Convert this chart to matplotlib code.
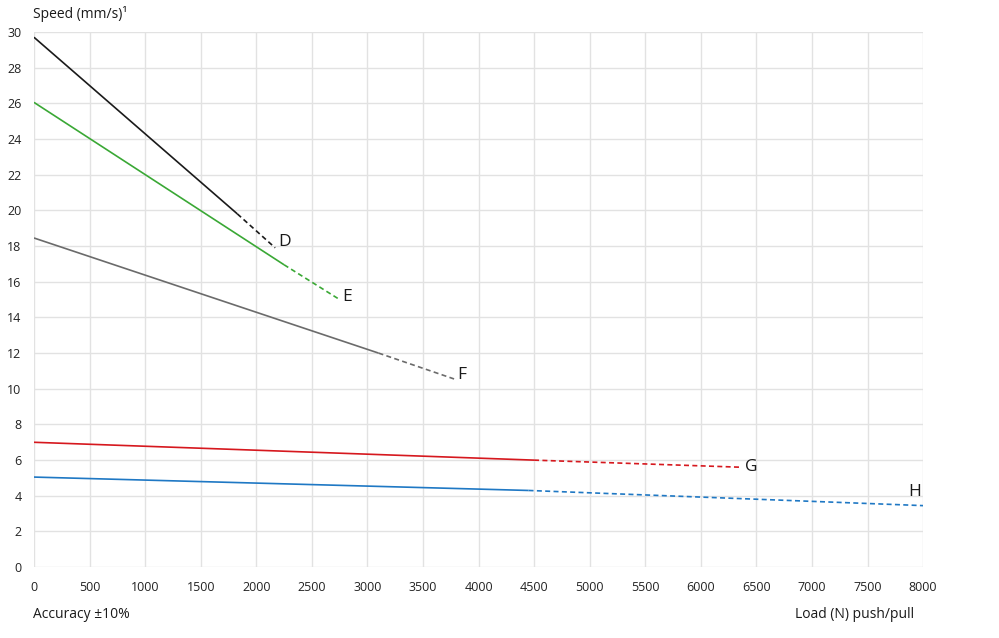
import matplotlib
matplotlib.use("Agg")
import matplotlib.pyplot as plt

plt.rcParams['font.family'] = ['Open Sans', 'DejaVu Sans']

# Data: each series = [start, end of solid part, end of dashed part]
names = ["D", "E", "F", "G", "H"]
load = {
    "D": [0, 1830, 2170],
    "E": [0, 2250, 2750],
    "F": [0, 3100, 3780],
    "G": [0, 4500, 6370],
    "H": [0, 4450, 8000],
}
speed = {
    "D": [29.7, 19.8, 17.9],
    "E": [26.05, 16.95, 15.0],
    "F": [18.45, 12.0, 10.55],
    "G": [7.0, 6.0, 5.6],
    "H": [5.05, 4.3, 3.45],
}
colors = {"D": "#1a1a1a", "E": "#3aa835", "F": "#6b6b6b", "G": "#d6181e", "H": "#1f78c4"}
label_offsets = {"D": (2, 4), "E": (2, 2), "F": (2, 3), "G": (2, 0), "H": (-6, 4)}
label_ha = {"D": "left", "E": "left", "F": "left", "G": "left", "H": "center"}

x_ticks = list(range(0, 8001, 500))
y_ticks = list(range(0, 31, 2))

fig = plt.figure(figsize=(9.99, 6.38), dpi=100)
ax = fig.add_axes([0.034, 0.111, 0.890, 0.839])

for n in names:
    xs, ys = load[n], speed[n]
    c = colors[n]
    ax.plot(xs[:2], ys[:2], color=c, lw=1.2, solid_capstyle='butt', zorder=3)
    ax.plot(xs[1:], ys[1:], color=c, lw=1.2, linestyle=(0, (3, 2)), zorder=3)
    ax.annotate(n, (xs[2], ys[2]), xytext=label_offsets[n], textcoords='offset points',
                ha=label_ha[n], va='bottom' if n == "H" else 'center',
                fontsize=12.5, color='#1a1a1a', fontweight='medium')

ax.set_xlim(0, 8000)
ax.set_ylim(0, 30)
ax.set_xticks(x_ticks)
ax.set_yticks(y_ticks)
ax.set_xticklabels([str(v) for v in x_ticks])
ax.set_yticklabels([str(v) for v in y_ticks])
ax.tick_params(axis='both', length=0, labelsize=9, colors='#222222')
ax.tick_params(axis='x', pad=10)
ax.tick_params(axis='y', pad=9)
ax.grid(True, color='#e2e2e2', lw=1.0)
ax.set_axisbelow(True)
for s in ax.spines.values():
    s.set_visible(False)

fig.text(33 / 999, 1 - 14 / 638, "Speed (mm/s)\u00b9", fontsize=10, va='center', ha='left', color='#1a1a1a')
fig.text(33 / 999, 1 - 615 / 638, "Accuracy \u00b110%", fontsize=10, va='center', ha='left', color='#1a1a1a')
fig.text(914 / 999, 1 - 615 / 638, "Load (N) push/pull", fontsize=10, va='center', ha='right', color='#1a1a1a')

fig.savefig("out.png", dpi=100, facecolor='white')
